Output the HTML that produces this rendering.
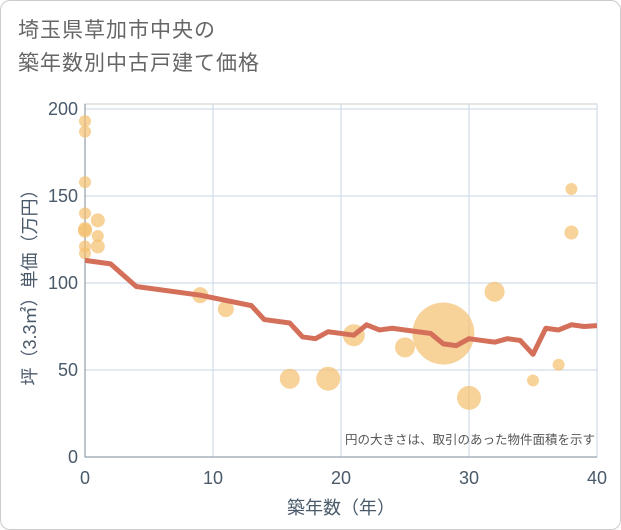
<!DOCTYPE html>
<html><head><meta charset="utf-8"><style>
body{margin:0;background:#fff;font-family:"Liberation Sans","Noto Sans CJK JP",sans-serif}
#wrap{position:relative;width:619px;height:528px;border:1px solid #ccc;border-radius:10px;overflow:hidden}
.title{position:absolute;left:17px;top:13px;font-size:21px;color:#666;line-height:33px;letter-spacing:1px}
</style></head><body>
<div id="wrap">
<div class="title">埼玉県草加市中央の<br>築年数別中古戸建て価格</div>
<svg id="c" width="621" height="530" style="position:absolute;left:0;top:0"></svg>
</div>
<script>
const xTicks=[0,10,20,30,40];
const yTicks=[0,50,100,150,200];
const lineYears=[0,2,4,9,13,14,16,17,18,19,20,21,22,23,24,25,26,27,28,29,30,31,32,33,34,35,36,37,38,39,40];
const lineValues=[113,111,98,93,87,79,77,69,68,72,71,70,76,73,74,73,72,71,65,64,68,67,66,68,67,59,74,73,76,75,75.5];
const bubbleYears=[0,0,0,0,0,0,0,0,1,1,1,9,11,16,19,21,25,28,30,32,35,37,38,38];
const bubbleValues=[193,187,158,140,131,130,121,117,136,127,121,93,85,45,45,70,63,71,34,95,44,53,154,129];
const bubbleSizes=[6,6,6,6,7,7,6,6,7,6,7,8,8,10,12,11,10,31,12,10,6,6,6,7];
const NS="http://www.w3.org/2000/svg",svg=document.getElementById('c');
const X0=84,X1=596,Y0=456,Y1=108;
const sx=v=>X0+(X1-X0)*v/40, sy=v=>Y0-(Y0-Y1)*v/200;
function mk(t,a,p){const e=document.createElementNS(NS,t);for(const k in a)e.setAttribute(k,a[k]);(p||svg).appendChild(e);return e;}
const frame=mk('rect',{x:X0,y:103,width:X1-X0,height:Y0-103,fill:'none',stroke:'#ccc'});


xTicks.forEach(t=>{
 const g=mk('line',{x1:sx(t),x2:sx(t),y1:103,y2:Y0,stroke:'#c9d6e6'});
 
 
 const l=mk('text',{x:sx(t),y:483,'text-anchor':'middle','font-size':18,fill:'#4a5a6a'});l.textContent=t;
 
 
});
yTicks.forEach(t=>{
 const g=mk('line',{x1:X0,x2:X1,y1:sy(t),y2:sy(t),stroke:'#c9d6e6'});
 
 
 const l=mk('text',{x:77,y:sy(t)+6,'text-anchor':'end','font-size':18,fill:'#4a5a6a'});l.textContent=t;
 
 
});
const ax=mk('line',{x1:X0,x2:X0,y1:103,y2:Y0,stroke:'#7a8a9a'});


const ax2=mk('line',{x1:X0,x2:X1,y1:Y0,y2:Y0,stroke:'#7a8a9a'});


bubbleYears.forEach((yr,i)=>{
 const c=mk('circle',{cx:sx(yr),cy:sy(bubbleValues[i]),r:bubbleSizes[i],fill:'#f3bf6e','fill-opacity':0.7});
 
 
});
const pl=mk('polyline',{points:lineYears.map((y,i)=>sx(y)+','+sy(lineValues[i])).join(' '),fill:'none',stroke:'#d4705a','stroke-width':5,'stroke-linejoin':'round'});


const note=mk('text',{x:594,y:443,'text-anchor':'end','font-size':12.5,fill:'#555'});note.textContent='円の大きさは、取引のあった物件面積を示す';


const xt=mk('text',{x:340,y:513,'text-anchor':'middle','font-size':18,fill:'#4a5a6a'});xt.textContent='築年数（年）';


const yt=mk('text',{x:0,y:0,'text-anchor':'middle','font-size':18,fill:'#4a5a6a',transform:'translate(35,282) rotate(-90)'});yt.textContent='坪（3.3㎡）単価（万円）';


</script>
</body></html>
